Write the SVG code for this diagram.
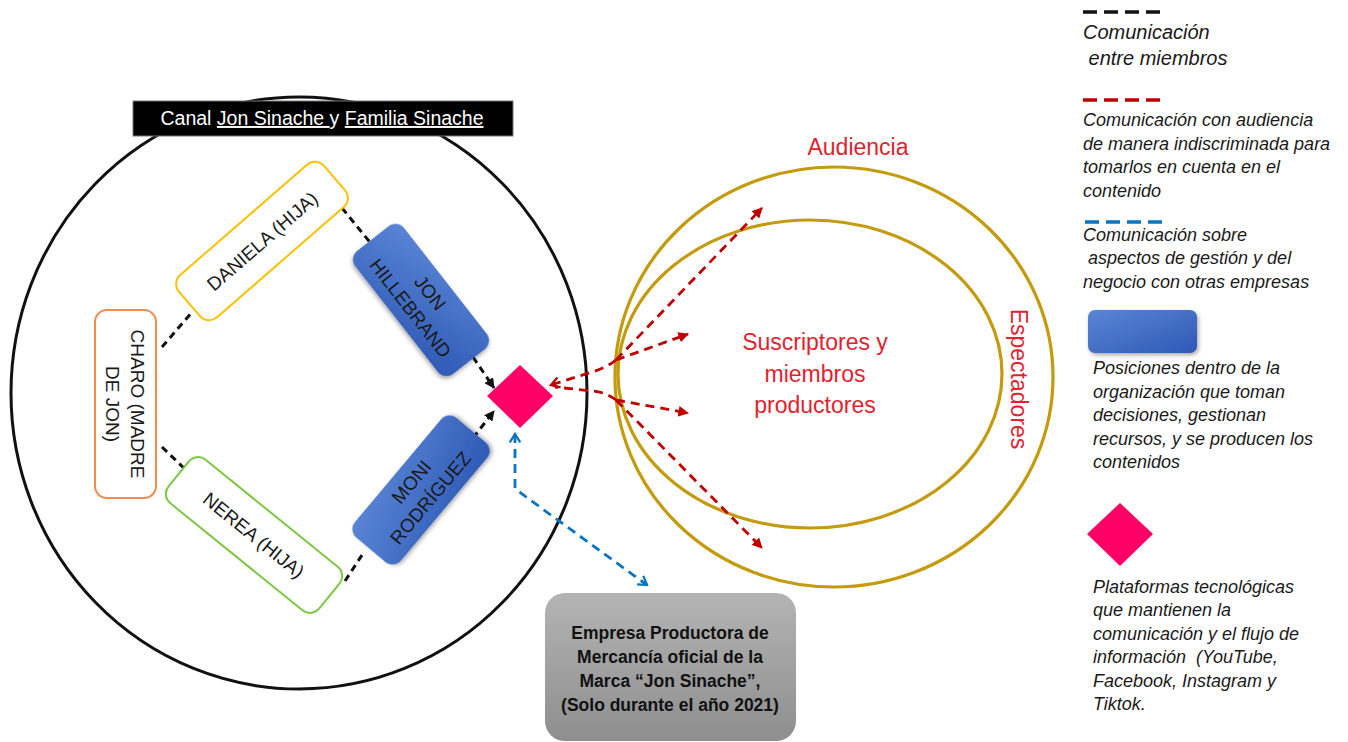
<svg xmlns="http://www.w3.org/2000/svg" width="1348" height="742" viewBox="0 0 1348 742">
  <style>
    .node-text { font-family: "Liberation Sans", Arial, sans-serif; font-size: 19px; fill: #1a1a1a; text-anchor: middle; }
    .legend { font-family: "Liberation Sans", Arial, sans-serif; font-size: 18px; font-style: italic; fill: #1a1a1a; }
    .legend-lg { font-size: 20px; }
    .red-label { font-family: "Liberation Sans", Arial, sans-serif; font-size: 23px; fill: #E0242F; text-anchor: middle; }
    .box-text { font-family: "Liberation Sans", Arial, sans-serif; font-size: 17.5px; font-weight: bold; fill: #111; text-anchor: middle; }
    .member { fill: #fff; stroke-width: 2; }
    .role { fill: url(#blueGrad); filter: url(#shadow); }
    .black-dash { fill: none; stroke: #111; stroke-width: 3; stroke-dasharray: 7 5; }
    .red-dash { fill: none; stroke: #C00000; stroke-width: 2.8; stroke-dasharray: 9 6; }
    .blue-dash { fill: none; stroke: #0A74C4; stroke-width: 2.8; stroke-dasharray: 9 6; }
    .ring { fill: none; stroke: #C49A0E; stroke-width: 3.2; }
    .platform { fill: #FF0066; }
  </style>
  <defs>
    <linearGradient id="blueGrad" x1="0" y1="0" x2="1" y2="1">
      <stop offset="0" stop-color="#5A86D6"/>
      <stop offset="1" stop-color="#2E59B5"/>
    </linearGradient>
    <linearGradient id="grayGrad" x1="0" y1="0" x2="0" y2="1">
      <stop offset="0" stop-color="#B4B4B4"/>
      <stop offset="1" stop-color="#8E8E8E"/>
    </linearGradient>
    <filter id="shadow" x="-20%" y="-20%" width="140%" height="140%">
      <feDropShadow dx="1.5" dy="2" stdDeviation="2" flood-color="#000" flood-opacity="0.35"/>
    </filter>
    <marker id="arrowBlack" viewBox="0 0 10 10" refX="9" refY="5" markerWidth="3.5" markerHeight="3.5" orient="auto" markerUnits="strokeWidth">
      <path d="M0,0 L10,5 L0,10 Z" fill="#111"/>
    </marker>
    <marker id="arrowRed" viewBox="0 0 10 10" refX="9" refY="5" markerWidth="3.8" markerHeight="3.8" orient="auto" markerUnits="strokeWidth">
      <path d="M0,0 L10,5 L0,10 Z" fill="#C00000"/>
    </marker>
    <marker id="chevronRed" viewBox="0 0 12 12" refX="10" refY="6" markerWidth="4.5" markerHeight="4.5" orient="auto" markerUnits="strokeWidth">
      <path d="M2,1 L10,6 L2,11" fill="none" stroke="#C00000" stroke-width="2.2"/>
    </marker>
    <marker id="chevronBlue" viewBox="0 0 12 12" refX="10" refY="6" markerWidth="4.5" markerHeight="4.5" orient="auto-start-reverse" markerUnits="strokeWidth">
      <path d="M2,1 L10,6 L2,11" fill="none" stroke="#0A74C4" stroke-width="2.2"/>
    </marker>
  </defs>

  <rect width="1348" height="742" fill="#fff"/>

  <!-- channel boundary -->
  <ellipse cx="299" cy="393" rx="288" ry="296" fill="none" stroke="#111" stroke-width="3"/>

  <!-- audience rings -->
  <g id="audience">
    <ellipse class="ring" cx="834" cy="377" rx="219" ry="210"/>
    <ellipse class="ring" cx="810" cy="374" rx="192" ry="154"/>
    <text class="red-label" x="858" y="155">Audiencia</text>
    <text class="red-label" x="815" y="350">Suscriptores y</text>
    <text class="red-label" x="815" y="382">miembros</text>
    <text class="red-label" x="815" y="413">productores</text>
    <text class="red-label" transform="translate(1011,379) rotate(90)" x="0" y="0">Espectadores</text>
  </g>

  <!-- title bar -->
  <g id="title">
    <rect x="133" y="101" width="380" height="35" fill="#000" stroke="#777" stroke-width="1"/>
    <text x="322" y="125" font-family="Liberation Sans, Arial, sans-serif" font-size="19.5" fill="#fff" text-anchor="middle">Canal <tspan text-decoration="underline">Jon Sinache </tspan>y <tspan text-decoration="underline">Familia Sinache</tspan></text>
  </g>

  <!-- connectors -->
  <g id="connectors">
    <!-- family links -->
    <path class="black-dash" d="M162,347 L193,311"/>
    <path class="black-dash" d="M162,447 L189,473"/>
    <path class="black-dash" d="M342,208 L373,246"/>
    <path class="black-dash" d="M345,581 L364,552"/>
    <path class="black-dash" d="M473,357 L494,388" marker-end="url(#arrowBlack)"/>
    <path class="black-dash" d="M473,438 L494,411" marker-end="url(#arrowBlack)"/>
    <!-- platform to audience -->
    <path class="red-dash" d="M616,360 Q606,368 592,372 L551,385" marker-end="url(#chevronRed)"/>
    <path class="red-dash" d="M616,400 Q606,392 592,391 L555,387"/>
    <path class="red-dash" d="M616,360 L762,208" marker-end="url(#arrowRed)"/>
    <path class="red-dash" d="M616,360 L688,334" marker-end="url(#arrowRed)"/>
    <path class="red-dash" d="M616,400 L688,413" marker-end="url(#arrowRed)"/>
    <path class="red-dash" d="M616,400 L762,548" marker-end="url(#arrowRed)"/>
    <!-- platform to merchandise company -->
    <path class="blue-dash" d="M515,434 L515,488 L522,494 L647,585" marker-start="url(#chevronBlue)" marker-end="url(#chevronBlue)"/>
  </g>

  <!-- members -->
  <g id="charo">
    <rect class="member" x="95" y="310" width="61" height="188" rx="12" stroke="#F28C4E"/>
    <g transform="translate(125,404) rotate(90)">
      <text class="node-text" x="0" y="-6" font-size="20">CHARO (MADRE</text>
      <text class="node-text" x="0" y="19" font-size="20">DE JON)</text>
    </g>
  </g>

  <g id="daniela" transform="translate(262,241) rotate(-41)">
    <rect class="member" x="-96" y="-28" width="192" height="56" rx="12" stroke="#FFC000"/>
    <text class="node-text" x="0" y="7">DANIELA (HIJA)</text>
  </g>

  <g id="nerea" transform="translate(254,535) rotate(39)">
    <rect class="member" x="-97" y="-28" width="194" height="56" rx="12" stroke="#7DC843"/>
    <text class="node-text" x="0" y="7">NEREA (HIJA)</text>
  </g>

  <g id="jon" transform="translate(421,300) rotate(52)">
    <rect class="role" x="-78" y="-31" width="156" height="62" rx="11"/>
    <text class="node-text" x="0" y="-5">JON</text>
    <text class="node-text" x="0" y="20">HILLEBRAND</text>
  </g>

  <g id="moni" transform="translate(421,490) rotate(-50)">
    <rect class="role" x="-78" y="-30" width="156" height="60" rx="11"/>
    <text class="node-text" x="0" y="-6">MONI</text>
    <text class="node-text" x="0" y="19">RODRÍGUEZ</text>
  </g>

  <g id="platform">
    <polygon class="platform" points="520,365 553,396 520,428 487,396"/>
  </g>

  <g id="merchandise">
    <rect x="545" y="593" width="251" height="148" rx="20" fill="url(#grayGrad)"/>
    <text class="box-text" x="670" y="639">Empresa Productora de</text>
    <text class="box-text" x="670" y="663">Mercancía oficial de la</text>
    <text class="box-text" x="670" y="687">Marca “Jon Sinache”,</text>
    <text class="box-text" x="670" y="711">(Solo durante el año 2021)</text>
  </g>

  <!-- legend -->
  <g id="legend">
    <line x1="1083" y1="12" x2="1162" y2="12" stroke="#111" stroke-width="3.5" stroke-dasharray="14 7"/>
    <text class="legend legend-lg" x="1083" y="39">Comunicación</text>
    <text class="legend legend-lg" x="1083" y="65" xml:space="preserve"> entre miembros</text>

    <line x1="1083" y1="100" x2="1162" y2="100" stroke="#C00000" stroke-width="3.5" stroke-dasharray="14 7"/>
    <text class="legend" x="1083" y="126">Comunicación con audiencia</text>
    <text class="legend" x="1083" y="150">de manera indiscriminada para</text>
    <text class="legend" x="1083" y="173">tomarlos en cuenta en el</text>
    <text class="legend" x="1083" y="197">contenido</text>

    <line x1="1085" y1="222" x2="1165" y2="222" stroke="#0A74C4" stroke-width="3.5" stroke-dasharray="14 7"/>
    <text class="legend" x="1083" y="241">Comunicación sobre</text>
    <text class="legend" x="1083" y="264" xml:space="preserve"> aspectos de gestión y del</text>
    <text class="legend" x="1083" y="288">negocio con otras empresas</text>

    <rect class="role" x="1088" y="310" width="109" height="43" rx="7"/>
    <text class="legend" x="1093" y="374">Posiciones dentro de la</text>
    <text class="legend" x="1093" y="398">organización que toman</text>
    <text class="legend" x="1093" y="421">decisiones, gestionan</text>
    <text class="legend" x="1093" y="445">recursos, y se producen los</text>
    <text class="legend" x="1093" y="468">contenidos</text>

    <polygon class="platform" points="1120,503 1153,534 1120,566 1087,534"/>
    <text class="legend" x="1093" y="593">Plataformas tecnológicas</text>
    <text class="legend" x="1093" y="616">que mantienen la</text>
    <text class="legend" x="1093" y="640">comunicación y el flujo de</text>
    <text class="legend" x="1093" y="663" xml:space="preserve">información  (YouTube,</text>
    <text class="legend" x="1093" y="687">Facebook, Instagram y</text>
    <text class="legend" x="1093" y="710">Tiktok.</text>
  </g>
</svg>
